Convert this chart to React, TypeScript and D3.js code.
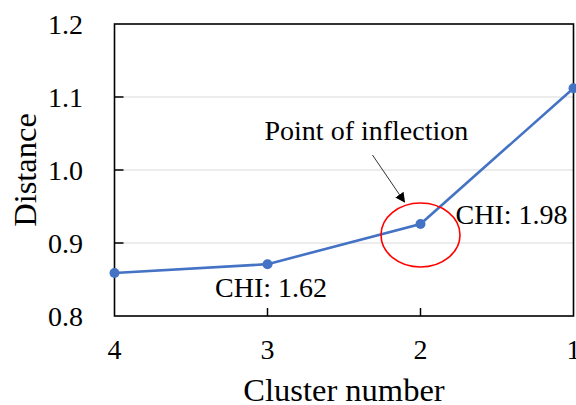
import React from "react";
import * as d3 from "d3";

const clusters = ["4", "3", "2", "1"];
const distances = [0.859, 0.871, 0.926, 1.112];
const yTicks = [0.8, 0.9, 1.0, 1.1, 1.2];
const gridTicks = [0.9, 1.0, 1.1];
const annotations = [
  { cluster: "3", text: "CHI: 1.62" },
  { cluster: "2", text: "CHI: 1.98" },
];
const inflectionLabel = "Point of inflection";
const inflectionCluster = "2";

const W = 576;
const H = 405;
const M = { left: 114.5, right: 2.5, top: 24, bottom: 89 };
const FONT = "'Times New Roman', Tinos, Times, serif";

export default function App() {
  const x = d3.scalePoint<string>().domain(clusters).range([M.left, W - M.right]);
  const y = d3.scaleLinear().domain([0.8, 1.2]).range([H - M.bottom, M.top]);
  const line = d3
    .line<number>()
    .x((_, i) => x(clusters[i]) as number)
    .y((d) => y(d));
  const x0 = M.left;
  const x1 = W - M.right;
  const y0 = H - M.bottom;
  const y1 = M.top;
  const ix = x(inflectionCluster) as number;
  const iy = y(distances[clusters.indexOf(inflectionCluster)]);
  const a1 = annotations[0];
  const a2 = annotations[1];
  const a1x = x(a1.cluster) as number;
  const a1y = y(distances[clusters.indexOf(a1.cluster)]);
  const a2x = x(a2.cluster) as number;
  const a2y = y(distances[clusters.indexOf(a2.cluster)]);
  const ts = { fontFamily: FONT };

  return (
    <div style={{ position: "absolute", left: 0, top: 0 }}>
      <svg width={W} height={H} style={{ display: "block", background: "#fff", fontFamily: FONT }}>
        <defs>
          <marker id="arr" viewBox="0 0 10 10" refX="9" refY="5" markerWidth="10" markerHeight="10" markerUnits="userSpaceOnUse" orient="auto">
            <path d="M0,0 L10,5 L0,10 z" fill="#000" />
          </marker>
        </defs>
        {gridTicks.map((t) => (
          <line key={"g" + t} x1={x0} x2={x1} y1={y(t)} y2={y(t)} stroke="#d9d9d9" strokeWidth={1.2} />
        ))}
        {gridTicks.map((t) => (
          <line key={"t" + t} x1={x0} x2={x0 + 9} y1={y(t)} y2={y(t)} stroke="#000" strokeWidth={1.5} />
        ))}
        {clusters.slice(1, -1).map((c) => (
          <line key={"xt" + c} x1={x(c)} x2={x(c)} y1={y0} y2={y0 - 8} stroke="#000" strokeWidth={1.5} />
        ))}
        <rect x={x0} y={y1} width={x1 - x0} height={y0 - y1} fill="none" stroke="#000" strokeWidth={1.6} />
        {yTicks.map((t) => (
          <text key={"yl" + t} x={83} y={y(t) + 9.5} fontSize={28} textAnchor="end" fill="#000" style={ts}>
            {t.toFixed(1)}
          </text>
        ))}
        {clusters.map((c) => (
          <text key={"xl" + c} x={x(c)} y={359} fontSize={28} textAnchor="middle" fill="#000" style={ts}>
            {c}
          </text>
        ))}
        <text x={(x0 + x1) / 2} y={401} fontSize={32.5} textAnchor="middle" fill="#000" style={ts}>
          Cluster number
        </text>
        <text transform={`translate(36,${(y0 + y1) / 2}) rotate(-90)`} fontSize={32.5} textAnchor="middle" fill="#000" style={ts}>
          Distance
        </text>
        <path d={line(distances) as string} fill="none" stroke="#4472C4" strokeWidth={2.6} />
        {distances.map((d, i) => (
          <circle key={"p" + i} cx={x(clusters[i])} cy={y(d)} r={5} fill="#4472C4" />
        ))}
        <ellipse cx={ix} cy={iy + 11} rx={39.5} ry={32} fill="none" stroke="#ff0000" strokeWidth={1.6} />
        <line x1={ix - 48} y1={iy - 69} x2={ix - 16} y2={iy - 22} stroke="#333" strokeWidth={1} markerEnd="url(#arr)" />
        <text x={ix - 156} y={iy - 84} fontSize={28} fill="#000" style={ts}>
          {inflectionLabel}
        </text>
        <text x={a1x - 52.5} y={a1y + 33} fontSize={28} fill="#000" style={ts}>
          {a1.text}
        </text>
        <text x={a2x + 35} y={a2y} fontSize={28} fill="#000" style={ts}>
          {a2.text}
        </text>
      </svg>
    </div>
  );
}
